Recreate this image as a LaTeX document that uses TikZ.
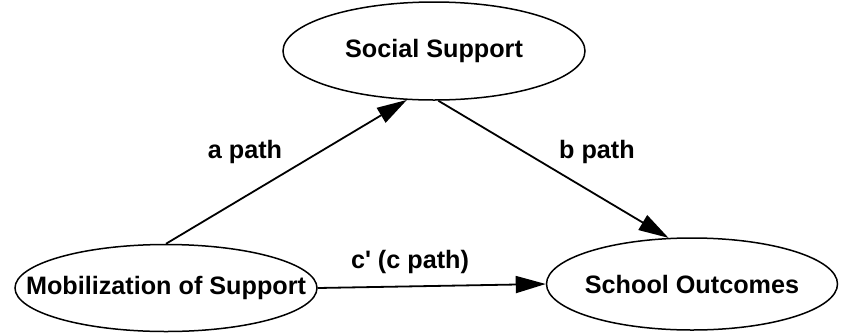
\documentclass[tikz,border=0pt]{standalone}
\usepackage{fontspec}
\setmainfont{Liberation Sans}[Ligatures=TeXOff]
\usetikzlibrary{arrows.meta,shapes.geometric}

\tikzset{
    var/.style={ellipse, draw, line width=1.5pt, inner sep=0pt},
    path arrow/.style={line width=1.8pt, -{Triangle[length=30pt,width=17pt]}},
    lbl/.style={font=\fontsize{25.2}{29}\selectfont\bfseries}
}

\begin{document}
\begin{tikzpicture}[x=1pt, y=-1pt]
    \useasboundingbox (0,0) rectangle (841,333);
    % draw the three variables
    \node[var, minimum width=302pt, minimum height=98pt,
        label={[lbl]center:Social Support}] (soc) at (434,51) {};
    \node[var, minimum width=302pt, minimum height=87pt,
        label={[lbl]center:Mobilization of Support}] (mob) at (166,288) {};
    \node[var, minimum width=291pt, minimum height=92pt,
        label={[lbl]center:School Outcomes}] (sch) at (692,284) {};

    % draw paths
    \draw[path arrow] (mob.north) -- (soc.241);
    \draw[path arrow] (soc.275) -- (sch.117);
    \draw[path arrow] (mob.east) -- (sch.west);

    % draw path labels
    \node[lbl] (alab) at (245,152) {a path};
    \node[lbl] (blab) at (597,152) {b path};
    \node[lbl] (clab) at (410,262) {c' (c path)};
\end{tikzpicture}
\end{document}
